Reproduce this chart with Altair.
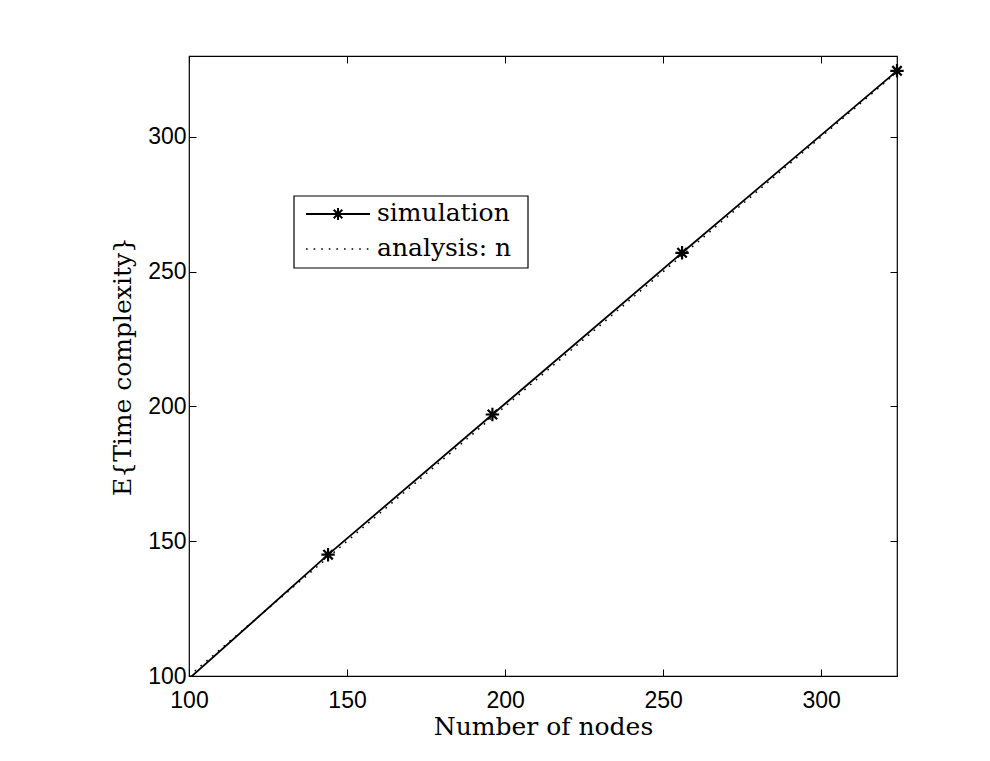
import altair as alt
import pandas as pd

# ---- data ----
nodes_sim = [100, 144, 196, 256, 324]
time_sim = [99, 145, 197, 257, 324.5]
nodes_ana = [100, 144, 196, 256, 324]
time_ana = [100, 144, 196, 256, 324]
x_ticks = [100, 150, 200, 250, 300]
y_ticks = [100, 150, 200, 250, 300]
legend_labels = ["simulation", "analysis: n"]

sim = pd.DataFrame({"n": nodes_sim, "t": time_sim})
ana = pd.DataFrame({"n": nodes_ana, "t": time_ana})

W, H = 708, 620
SERIF = "DejaVu Serif"
SANS = "Liberation Sans"
ASTERISK = "M-1,0L1,0M0,-1L0,1M-0.7,-0.7L0.7,0.7M-0.7,0.7L0.7,-0.7"
DOT = [1.6, 6]

xs = alt.Scale(domain=[100, 324], nice=False, zero=False)
ys = alt.Scale(domain=[100, 330], nice=False, zero=False)

common_axis = dict(grid=False, domain=False, tickSize=7, offset=-7,
                   tickColor="black", tickWidth=1, labelFlush=False,
                   labelFont=SANS, labelFontSize=23, labelColor="black",
                   titleFont=SERIF, titleFontSize=25, titleFontWeight="normal",
                   titleColor="black")

x_bottom = alt.X("n:Q", scale=xs, axis=alt.Axis(
    orient="bottom", values=x_ticks, title="Number of nodes",
    labelPadding=13, titlePadding=2, **common_axis))
y_left = alt.Y("t:Q", scale=ys, axis=alt.Axis(
    orient="left", values=y_ticks, title="E{Time complexity}",
    labelPadding=3, titlePadding=12, **common_axis))

x_top = alt.X("n:Q", scale=xs, axis=alt.Axis(
    orient="top", values=x_ticks, title=None, labels=False, **common_axis))
y_right = alt.Y("t:Q", scale=ys, axis=alt.Axis(
    orient="right", values=y_ticks, title=None, labels=False, **common_axis))

analysis = alt.Chart(ana).mark_line(
    color="black", strokeWidth=1.5, strokeDash=DOT, clip=True
).encode(x=x_bottom, y=y_left)

sim_line = alt.Chart(sim).mark_line(
    color="black", strokeWidth=1.8, clip=True
).encode(x=x_top, y=y_right)

sim_pts = alt.Chart(sim).transform_filter("datum.n > 100").mark_point(
    shape=ASTERISK, size=180, color="black", strokeWidth=2.2, filled=False, opacity=1
).encode(x=alt.X("n:Q", scale=xs, axis=None), y=alt.Y("t:Q", scale=ys, axis=None))

# ---- manual legend (pixel positions inside plot area) ----
one = pd.DataFrame({"k": [0]})
leg_box = alt.Chart(one).mark_rect(
    fill="white", stroke="black", strokeWidth=1.2
).encode(x=alt.value(105), x2=alt.value(339), y=alt.value(140), y2=alt.value(212))
leg_l1 = alt.Chart(one).mark_rule(color="black", strokeWidth=1.8).encode(
    x=alt.value(117), x2=alt.value(181), y=alt.value(158))
leg_m1 = alt.Chart(one).mark_point(
    shape=ASTERISK, size=150, color="black", strokeWidth=2, filled=False, opacity=1
).encode(x=alt.value(149), y=alt.value(158))
leg_l2 = alt.Chart(one).mark_rule(color="black", strokeWidth=1.5, strokeDash=DOT).encode(
    x=alt.value(117), x2=alt.value(181), y=alt.value(193))
leg_t1 = alt.Chart(one).mark_text(
    text=legend_labels[0], font=SERIF, fontSize=25, align="left", baseline="middle", color="black"
).encode(x=alt.value(188), y=alt.value(157))
leg_t2 = alt.Chart(one).mark_text(
    text=legend_labels[1], font=SERIF, fontSize=25, align="left", baseline="middle", color="black"
).encode(x=alt.value(188), y=alt.value(192))

chart = alt.layer(
    analysis, sim_line, sim_pts, leg_box, leg_l1, leg_m1, leg_l2, leg_t1, leg_t2
).resolve_axis(x="independent", y="independent").properties(
    width=W, height=H,
    autosize=alt.AutoSizeParams(type="none"),
    padding={"left": 189, "top": 56, "right": 93, "bottom": 85},
    background="white",
).configure_view(stroke="black", strokeWidth=1.2)

chart.save("out.html", embed_options={"renderer": "svg", "actions": False})
